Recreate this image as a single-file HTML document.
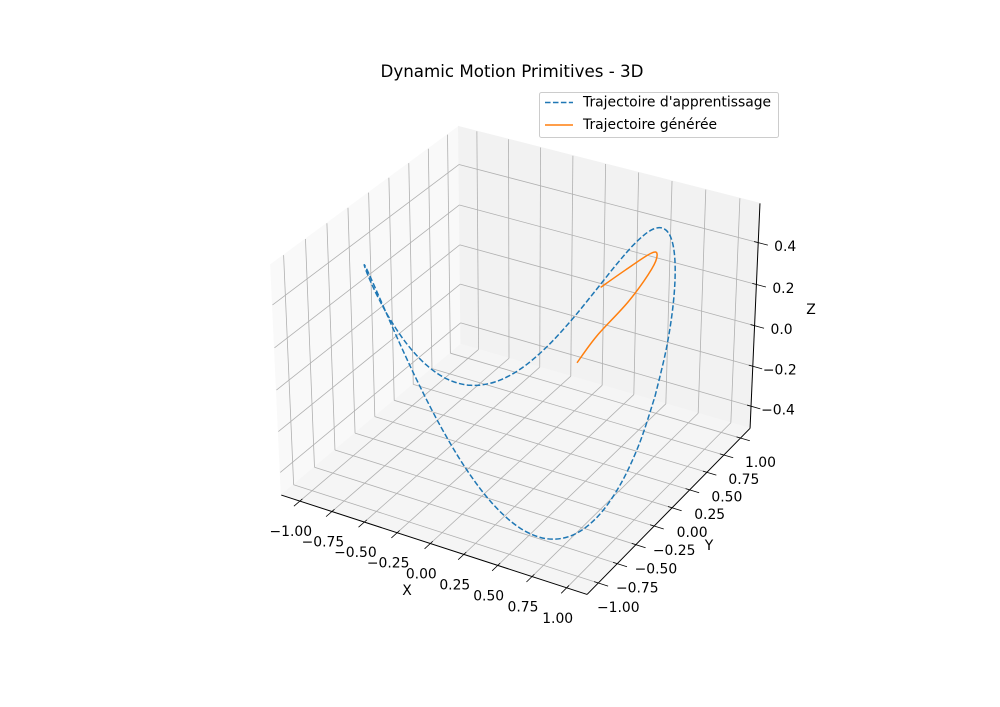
<!DOCTYPE html>
<html><head><meta charset="utf-8">
<style>
html,body{margin:0;padding:0;background:#fff;}
svg{display:block;font-family:"DejaVu Sans","Liberation Sans",sans-serif;}
</style></head>
<body>
<svg id="chart" width="1000" height="707" viewBox="0 0 1000 707" xmlns="http://www.w3.org/2000/svg">
<rect width="1000" height="707" fill="#fff"/>
<text x="512" y="71" font-size="16.7" text-anchor="middle" dominant-baseline="central" fill="#000">Dynamic Motion Primitives - 3D</text>
<g id="panes"></g><g id="grid"></g><g id="axes"></g><g id="series"></g>
<text x="407" y="591" font-size="13.9" text-anchor="middle" dominant-baseline="central">X</text>
<text x="709" y="546" font-size="13.9" text-anchor="middle" dominant-baseline="central">Y</text>
<text x="811" y="310" font-size="13.9" text-anchor="middle" dominant-baseline="central">Z</text>
<g>
<rect x="539.5" y="92.5" width="239" height="45" rx="2" fill="#fff" fill-opacity="0.8" stroke="#cccccc" stroke-width="1"/>
<line x1="545" y1="102.5" x2="573" y2="102.5" stroke="#1f77b4" stroke-width="1.5" stroke-dasharray="5.55 2.4"/>
<text x="583" y="102.5" font-size="13.9" dominant-baseline="central">Trajectoire d'apprentissage</text>
<line x1="545" y1="125" x2="573" y2="125" stroke="#ff7f0e" stroke-width="1.5"/>
<text x="583" y="125" font-size="13.9" dominant-baseline="central">Trajectoire générée</text>
</g>
</svg>
<script>
// ---- data ----
const learnedX = [1,0.985,0.940,0.866,0.766,0.643,0.5,0.342,0.174,0,-0.174,-0.342,-0.5,-0.643,-0.766,-0.866,-0.940,-0.985,-1,-0.985,-0.940,-0.866,-0.766,-0.643,-0.5,-0.342,-0.174,0,0.174,0.342,0.5,0.643,0.766,0.866,0.940,0.985,1];
const learnedY = [0,0.174,0.342,0.5,0.643,0.766,0.866,0.940,0.985,1,0.985,0.940,0.866,0.766,0.643,0.5,0.342,0.174,0,-0.174,-0.342,-0.5,-0.643,-0.766,-0.866,-0.940,-0.985,-1,-0.985,-0.940,-0.866,-0.766,-0.643,-0.5,-0.342,-0.174,0];
const learnedZ = [0,0.171,0.321,0.433,0.492,0.492,0.433,0.321,0.171,0,-0.171,-0.321,-0.433,-0.492,-0.492,-0.433,-0.321,-0.171,0,0.171,0.321,0.433,0.492,0.492,0.433,0.321,0.171,0,-0.171,-0.321,-0.433,-0.492,-0.492,-0.433,-0.321,-0.171,0];
const genX = [0.23,0.3175,0.47,0.565,0.58,0.53,0.435,0.34];
const genY = [0.36,0.47,0.62,0.756,0.80,0.80,0.635,0.47];
const genZ = [-0.10,0.0125,0.16,0.29,0.35,0.345,0.30,0.25];
const xTicks = [-1,-0.75,-0.5,-0.25,0,0.25,0.5,0.75,1];
const yTicks = [-1,-0.75,-0.5,-0.25,0,0.25,0.5,0.75,1];
const zTicks = [-0.4,-0.2,0,0.2,0.4];
const xTickLabels = ["\u22121.00","\u22120.75","\u22120.50","\u22120.25","0.00","0.25","0.50","0.75","1.00"];
const yTickLabels = ["\u22121.00","\u22120.75","\u22120.50","\u22120.25","0.00","0.25","0.50","0.75","1.00"];
const zTickLabels = ["\u22120.4","\u22120.2","0.0","0.2","0.4"];

// ---- projection (elev 30, azim -60, perspective) ----
const XB=[-1.1458,1.1458], YB=[-1.1458,1.1458], ZB=[-0.512,0.585];
const A=[1.1429,1.1429,0.8571];
const EYE=[4.9016,-6.9286,5.4286];
const U=[0.8660,0.5,0], V=[-0.25,0.4330,0.8660], W=[0.4330,-0.75,0.5];
const K=3066, CX=519.8, CY=349.7;
function proj(x,y,z){
  const X=(x-XB[0])/(XB[1]-XB[0])*A[0]-EYE[0];
  const Y=(y-YB[0])/(YB[1]-YB[0])*A[1]-EYE[1];
  const Z=(z-ZB[0])/(ZB[1]-ZB[0])*A[2]-EYE[2];
  const xv=U[0]*X+U[1]*Y+U[2]*Z, yv=V[0]*X+V[1]*Y+V[2]*Z, zv=W[0]*X+W[1]*Y+W[2]*Z;
  return [CX+K*xv/(-zv), CY-K*yv/(-zv)];
}
const NS="http://www.w3.org/2000/svg";
function mk(tag,attrs,parent){const e=document.createElementNS(NS,tag);for(const k in attrs)e.setAttribute(k,attrs[k]);parent.appendChild(e);return e;}
function poly(pts){return pts.map(p=>p[0].toFixed(2)+","+p[1].toFixed(2)).join(" ");}
const gP=document.getElementById('panes'),gG=document.getElementById('grid'),gA=document.getElementById('axes'),gS=document.getElementById('series');
const x0=XB[0],x1=XB[1],y0=YB[0],y1=YB[1],z0=ZB[0],z1=ZB[1];

// panes
let p=mk('polygon',{points:poly([proj(x0,y0,z0),proj(x0,y1,z0),proj(x0,y1,z1),proj(x0,y0,z1)]),fill:'#f9f9f9',stroke:'#f9f9f9'},gP);


p=mk('polygon',{points:poly([proj(x0,y1,z0),proj(x1,y1,z0),proj(x1,y1,z1),proj(x0,y1,z1)]),fill:'#f2f2f2',stroke:'#f2f2f2'},gP);


p=mk('polygon',{points:poly([proj(x0,y0,z0),proj(x1,y0,z0),proj(x1,y1,z0),proj(x0,y1,z0)]),fill:'#f5f5f5',stroke:'#f5f5f5'},gP);



function gl(a,b,name){const q=mk('line',{x1:a[0],y1:a[1],x2:b[0],y2:b[1],stroke:'#b0b0b0','stroke-width':0.8},gG);

}
xTicks.forEach(t=>{gl(proj(t,y0,z0),proj(t,y1,z0),'x-grid-floor');gl(proj(t,y1,z0),proj(t,y1,z1),'x-grid-back');});
yTicks.forEach(t=>{gl(proj(x0,t,z0),proj(x1,t,z0),'y-grid-floor');gl(proj(x0,t,z0),proj(x0,t,z1),'y-grid-side');});
zTicks.forEach(t=>{gl(proj(x0,y0,t),proj(x0,y1,t),'z-grid-side');gl(proj(x0,y1,t),proj(x1,y1,t),'z-grid-back');});

function al(a,b,name,w){const q=mk('line',{x1:a[0],y1:a[1],x2:b[0],y2:b[1],stroke:'#000','stroke-width':w},gA);

}
al(proj(x0,y0,z0),proj(x1,y0,z0),'x-axis-line',1);
al(proj(x1,y0,z0),proj(x1,y1,z0),'y-axis-line',1);
al(proj(x1,y1,z0),proj(x1,y1,z1),'z-axis-line',1);
function lab(pt,txt,name){const t=mk('text',{x:pt[0].toFixed(1),y:pt[1].toFixed(1),'font-size':13.9,'text-anchor':'middle','dominant-baseline':'central'},gA);t.textContent=txt;

}
xTicks.forEach((t,i)=>{const a=proj(t,y0,z0);al(proj(t,y0+0.03,z0),proj(t,y0-0.07,z0),'x-tick',0.8);lab([a[0]-9,a[1]+31],xTickLabels[i],'x-tick-label');});
yTicks.forEach((t,i)=>{const a=proj(x1,t,z0);al(proj(x1-0.03,t,z0),proj(x1+0.07,t,z0),'y-tick',0.8);lab([a[0]+20,a[1]+25],yTickLabels[i],'y-tick-label');});
zTicks.forEach((t,i)=>{const a=proj(x1,y1,t);al(proj(x1-0.03,y1,t),proj(x1+0.07,y1,t),'z-tick',0.8);lab([a[0]+27,a[1]+4.5],zTickLabels[i],'z-tick-label');});

function smooth(pts){let d="M"+pts[0][0].toFixed(2)+","+pts[0][1].toFixed(2);
 for(let i=0;i<pts.length-1;i++){const p0=pts[Math.max(0,i-1)],p1=pts[i],p2=pts[i+1],p3=pts[Math.min(pts.length-1,i+2)];
 const c1=[p1[0]+(p2[0]-p0[0])/6,p1[1]+(p2[1]-p0[1])/6],c2=[p2[0]-(p3[0]-p1[0])/6,p2[1]-(p3[1]-p1[1])/6];
 d+=" C"+c1[0].toFixed(2)+","+c1[1].toFixed(2)+" "+c2[0].toFixed(2)+","+c2[1].toFixed(2)+" "+p2[0].toFixed(2)+","+p2[1].toFixed(2);}
 return d;}
const lp=learnedX.map((x,i)=>proj(x,learnedY[i],learnedZ[i]));
const l1=mk('path',{d:smooth(lp),fill:'none',stroke:'#1f77b4','stroke-width':1.5,'stroke-dasharray':'5.55 2.4'},gS);


const gp=genX.map((x,i)=>proj(x,genY[i],genZ[i]));
const l2=mk('path',{d:smooth(gp),fill:'none',stroke:'#ff7f0e','stroke-width':1.5,'stroke-linejoin':'round'},gS);


</script>
</body></html>
